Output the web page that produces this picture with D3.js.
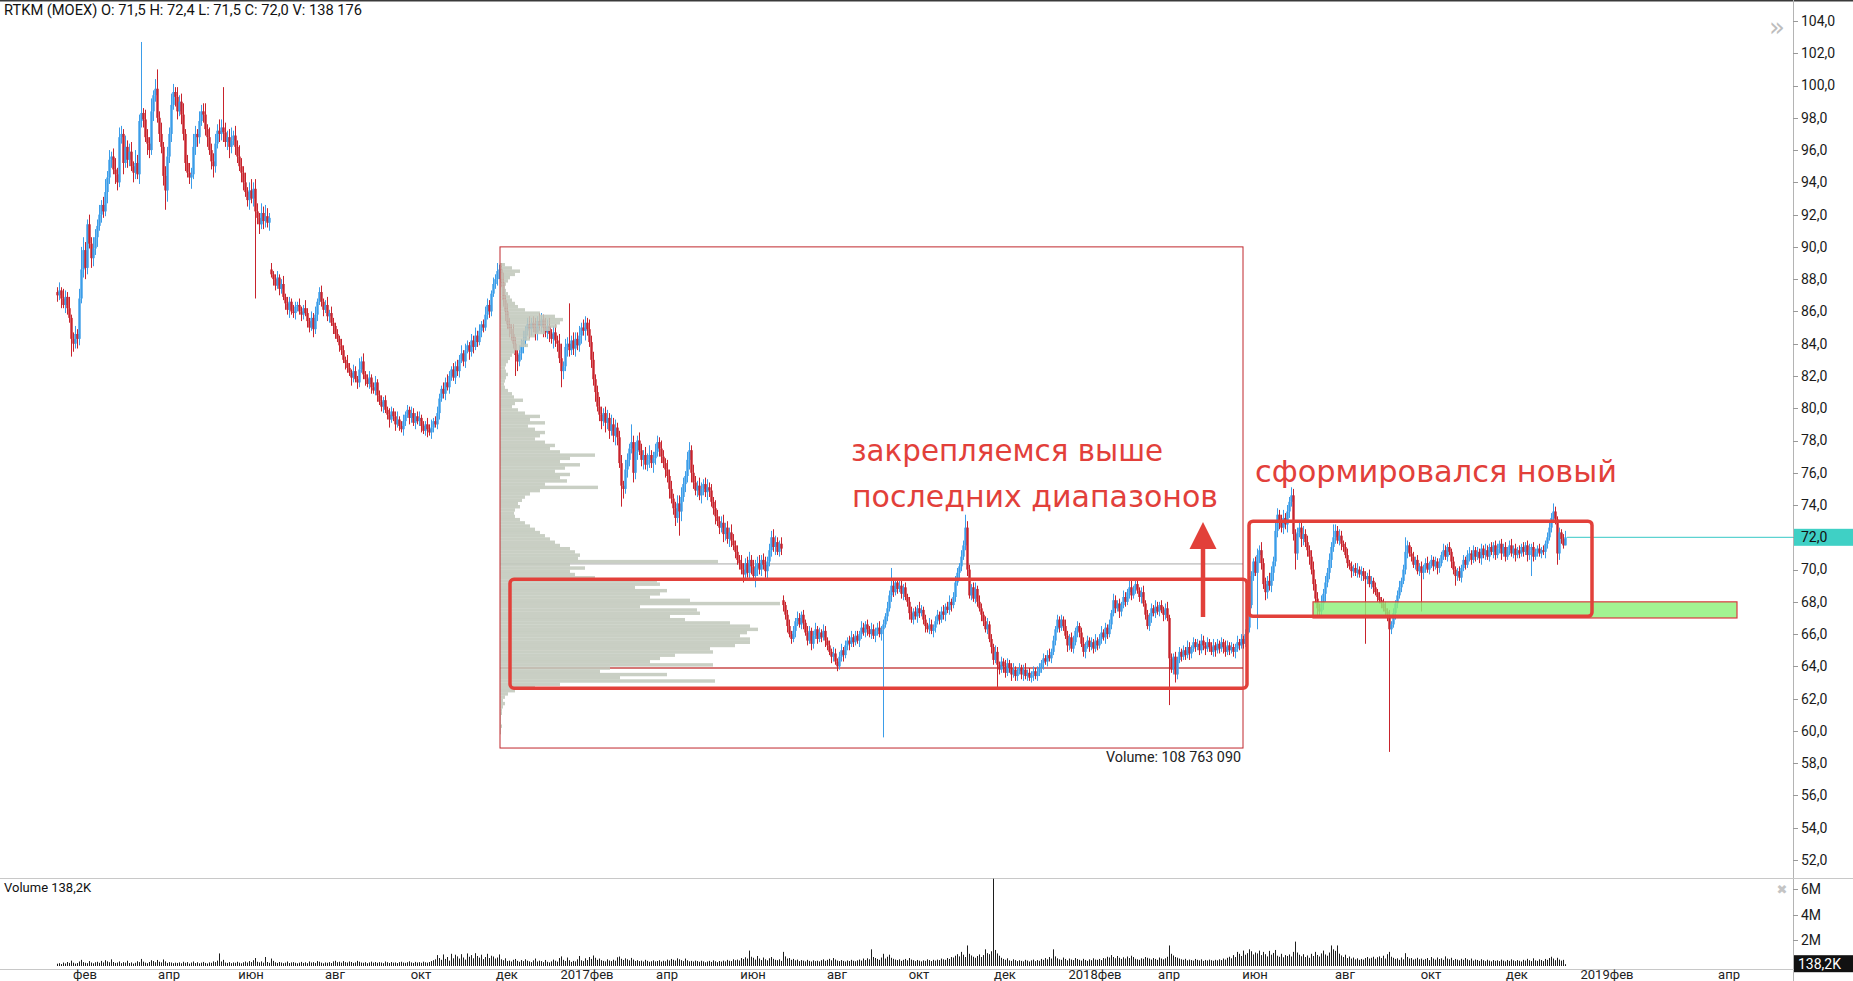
<!DOCTYPE html>
<html><head><meta charset="utf-8">
<script src="https://cdn.jsdelivr.net/npm/d3@7"></script>
<style>html,body{margin:0;padding:0;background:#fff;overflow:hidden}</style>
</head><body>
<svg id="c" width="1853" height="981"></svg>
<script>
// ---------- DATA ----------
const closes = [
87.0,87.3,86.8,86.4,86.9,86.2,85.6,84.3,84.0,84.6,84.3,
86.8,88.6,89.8,88.7,91.4,90.2,89.3,89.9,90.6,91.3,
92.0,92.6,92.2,93.4,94.3,95.4,95.6,94.8,94.5,94.0,
96.8,97.0,95.2,96.2,95.4,95.9,95.0,94.6,95.2,94.5,
97.8,98.3,97.9,96.8,96.4,96.0,98.4,99.4,99.8,98.0,
97.0,96.2,94.4,93.5,95.6,97.0,98.8,99.6,99.3,98.4,
99.0,98.2,97.0,95.2,94.6,94.3,94.5,96.2,97.0,96.8,
97.8,98.4,98.2,97.3,96.8,96.0,95.3,95.0,96.4,97.2,
97.0,97.4,97.1,96.5,96.8,96.2,96.6,96.9,96.2,95.6,
95.0,94.6,94.0,93.4,92.9,93.5,93.0,93.6,92.2,91.8,
91.4,92.1,91.6,91.9,91.5,91.8,88.3,88.0,87.6,88.1,
87.4,87.7,86.9,86.5,86.1,86.6,86.0,85.9,86.3,86.4,
86.0,85.8,86.2,85.9,85.4,85.0,85.6,84.9,85.8,86.6,
87.2,86.6,86.1,86.4,85.7,85.9,85.3,85.1,84.6,84.3,
83.9,83.6,83.0,82.8,82.5,82.2,81.9,82.3,81.8,81.6,
82.4,82.9,82.1,81.8,81.5,81.9,81.3,81.1,81.6,80.8,
80.4,80.1,80.5,79.9,79.6,79.3,79.8,79.5,79.0,79.3,
78.9,78.7,79.2,79.6,79.9,79.4,79.7,79.1,79.5,79.2,
79.4,78.9,78.6,79.0,78.7,78.5,78.8,79.2,79.0,79.7,
80.6,81.2,80.9,81.6,81.3,82.0,82.4,81.9,82.6,82.3,
83.0,83.4,82.9,83.6,83.9,83.5,84.2,83.8,84.5,84.1,
84.8,85.2,85.0,85.8,86.4,86.0,87.1,87.7,88.0,88.5,
88.6,87.8,86.7,86.0,85.2,84.9,84.6,84.0,83.3,82.9,
83.4,83.9,84.2,84.8,85.2,84.9,85.3,85.0,84.7,85.4,
85.1,85.5,85.0,84.7,85.1,84.6,84.3,84.7,84.2,84.0,
83.1,82.3,82.6,83.8,84.0,83.6,84.2,83.7,84.3,83.9,
84.5,85.0,84.8,85.3,84.9,84.1,83.0,81.8,81.0,80.1,
79.6,79.2,79.7,79.1,79.4,78.6,79.0,78.3,78.8,78.2,
76.6,75.2,75.0,76.2,76.8,77.5,77.9,76.0,77.3,78.0,
77.4,76.8,77.1,76.5,76.8,77.1,76.6,76.9,77.3,77.9,
77.5,77.0,76.6,76.2,75.8,75.0,74.4,73.8,73.2,74.1,
73.6,74.5,75.3,75.8,76.8,77.4,76.0,75.4,74.9,75.2,
74.6,75.0,75.3,74.8,75.1,74.9,74.2,73.8,73.3,73.0,
72.6,72.9,72.2,72.6,71.9,72.3,71.8,71.5,71.1,70.6,
70.4,70.0,69.7,70.4,69.8,70.6,70.2,69.6,70.1,70.4,
70.0,70.6,70.3,69.9,70.5,71.2,72.0,71.4,71.7,71.1,
71.6,71.3,67.8,67.2,66.5,66.0,65.7,66.2,66.8,67.0,
66.6,67.2,66.7,66.1,65.6,66.2,65.4,65.9,66.3,65.7,
66.1,65.8,66.2,65.6,65.3,64.9,64.6,64.8,64.3,64.0,
64.6,65.0,64.7,65.3,65.6,65.4,65.8,65.5,65.9,65.6,
66.0,66.4,66.1,66.6,66.3,66.0,66.3,65.9,66.2,66.4,
66.0,66.3,66.6,67.1,67.6,68.4,69.0,68.6,69.2,68.8,
69.0,68.5,68.9,68.3,68.0,67.3,66.9,67.4,67.1,67.6,
67.3,67.5,66.9,66.5,66.3,66.6,66.2,66.4,66.8,67.2,
66.9,67.4,67.2,67.7,67.5,68.0,67.8,68.3,69.2,69.8,
70.2,70.8,71.5,72.6,70.0,68.4,68.9,68.2,68.8,68.0,
67.6,67.2,66.8,66.3,66.6,65.7,65.2,64.4,64.9,64.1,
63.8,64.3,64.0,63.6,64.2,63.9,63.5,63.8,63.4,63.7,
63.9,63.5,63.8,63.4,63.6,63.3,63.5,63.7,63.4,63.6,
63.9,64.2,64.5,64.3,64.7,64.5,64.9,65.6,66.3,66.9,
66.4,66.9,66.5,65.9,65.3,65.8,65.1,65.5,66.2,66.5,
66.1,65.4,64.9,65.3,65.6,65.2,65.5,65.1,65.6,65.3,
65.7,66.1,65.8,66.4,66.0,66.6,67.3,68.1,67.6,67.9,
67.4,67.8,68.3,68.0,68.6,68.9,68.4,68.8,69.1,68.7,
68.3,68.6,67.9,67.2,66.5,67.1,67.6,67.3,67.7,67.4,
67.8,67.5,67.2,67.6,67.0,64.5,63.8,64.6,63.5,64.4,
64.9,64.6,65.0,64.7,65.2,64.8,65.1,65.5,65.2,65.4,
65.0,65.6,65.3,65.1,65.5,65.2,64.9,65.3,65.0,65.4,
65.1,65.5,65.2,64.9,65.3,65.0,65.2,64.9,65.1,65.5,
65.3,65.7,65.4,66.0,66.4,67.8,69.6,70.5,69.8,70.9,
71.2,70.4,69.1,68.6,69.3,69.0,69.8,70.5,72.4,73.4,
73.0,72.6,73.2,72.8,73.6,74.2,74.6,72.2,71.0,72.3,
72.6,71.9,72.2,71.7,71.2,70.8,70.0,69.1,68.2,67.6,
67.4,67.9,68.5,69.2,69.8,70.6,71.4,72.0,72.4,71.8,
72.1,71.6,71.4,70.9,70.4,70.2,69.9,70.1,69.8,70.0,
69.7,69.9,69.6,69.4,69.6,69.1,69.3,68.9,68.6,68.3,
68.1,67.9,67.6,67.4,67.2,66.3,66.6,67.3,67.9,68.4,
68.9,69.3,70.0,71.1,71.5,71.0,70.8,70.3,70.6,69.9,
70.2,69.8,70.1,70.4,70.0,70.3,70.6,70.2,70.5,70.1,
70.4,70.9,71.2,70.8,71.4,71.1,70.5,70.0,69.6,69.9,
69.5,70.1,70.6,70.3,70.9,71.0,70.6,71.2,70.8,71.1,
70.7,71.3,70.9,71.2,70.8,71.4,71.1,71.5,70.9,71.3,
71.6,71.0,71.4,70.8,71.2,71.5,71.0,71.3,70.9,71.2,
71.0,71.4,71.1,71.5,70.9,71.2,71.4,70.8,71.1,71.3,
71.0,71.2,71.1,71.6,72.0,72.6,73.2,73.6,73.1,71.0,
72.3,71.9,71.5,72.0
];
const firstOpen = 87.2;
const gapOpens = [[107, 88.6], [363, 68.1]];
// upper / lower shadows beyond the body, in tenths of a rouble
const upperWick = [
3,5,2,6,4,3,7,2,4,5,3,6,4,8,5,3,6,4,7,5, 4,6,3,5,8,4,6,3,5,7,4,6,5,3,7,4,5,6,3,8,
5,4,7,3,6,5,4,8,3,6,5,4,7,3,5,6,4,7,5,3, 6,4,5,7,3,5,6,4,8,5,3,6,4,5,7,3,6,4,5,6,
4,7,5,3,6,4,5,8,3,6,4,7,5,4,6,3,5,7,4,6, 5,3,6,4,7,5,3,4,2,3,4,2,3,5,2,4,3,2,4,3,
2,4,3,2,5,3,2,4,3,5,2,3,4,2,3,5,2,4,3,2, 3,2,4,3,2,5,3,2,4,3,2,4,3,5,2,3,4,2,3,4,
2,3,4,2,3,2,4,3,2,3,5,2,3,4,2,3,2,4,3,2, 3,4,2,3,2,4,3,5,2,3,4,3,2,4,3,5,3,2,4,3,
4,3,5,2,4,3,2,4,3,5,3,4,2,3,5,4,3,2,4,3, 5,3,4,6,3,5,4,3,6,4,3,5,4,6,3,4,5,3,4,6,
3,5,4,3,6,4,5,3,4,5,3,6,4,3,5,4,6,3,5,4, 4,6,3,5,4,3,6,4,5,3,4,6,5,3,4,5,3,6,4,5,
3,4,5,3,6,4,3,5,4,6,3,5,4,3,5,4,6,3,4,5, 4,3,5,4,3,6,4,5,3,4,5,3,6,4,3,5,4,3,5,4,
3,5,4,3,4,5,3,4,3,5,4,3,4,5,3,4,3,5,4,3, 4,3,5,4,3,4,5,3,4,3,4,5,3,4,5,3,4,3,5,4,
3,2,4,3,2,3,4,2,3,2,4,3,2,3,2,4,3,2,3,4, 2,3,2,4,3,2,3,2,4,3,2,3,4,2,3,2,3,4,2,3,
3,2,4,3,2,3,2,4,3,2,3,4,2,3,2,4,3,2,3,2, 2,3,4,2,3,2,3,4,2,3,2,4,3,2,3,2,4,3,2,3,
3,2,3,4,2,3,4,2,3,4,3,2,4,3,2,4,3,2,3,4, 2,4,3,2,3,4,2,3,2,4,3,2,3,2,4,3,2,3,4,2,
2,3,2,3,4,2,3,2,3,2,4,3,2,3,2,3,4,2,3,2, 3,2,3,2,4,3,2,3,4,2,3,2,3,4,2,3,2,3,2,4,
2,3,4,2,3,2,3,2,4,3,2,3,2,4,3,2,3,4,2,3, 3,2,3,4,2,3,2,3,2,4,3,2,3,2,3,4,2,3,2,3,
2,3,2,3,2,4,3,2,3,2,3,2,4,3,2,3,2,3,4,2, 3,2,3,2,4,3,2,3,2,3,4,2,3,2,3,2,4,3,2,3,
4,3,5,3,4,3,5,4,3,5,4,3,4,5,3,4,3,5,4,3, 3,4,3,5,3,4,3,4,5,3,4,3,5,3,4,3,4,3,5,4,
3,4,3,2,3,4,2,3,2,3,4,2,3,2,3,2,4,3,2,3, 2,3,2,3,4,2,3,2,3,2,3,4,2,3,2,3,2,4,3,2,
3,2,3,2,3,4,2,3,2,3,2,3,2,4,3,2,3,2,3,2, 2,3,2,3,2,3,4,2,3,2,3,2,3,2,4,3,2,3,2,3,
3,2,3,2,3,2,3,4,2,3,2,3,2,3,2,3,4,2,3,2, 2,3,2,3,2,3,4,3,2,3,2,3,2,3,2
];
const lowerWick = [
4,3,6,2,5,4,3,7,5,3,6,4,3,5,7,4,3,6,5,4, 6,3,5,4,3,7,4,5,3,6,5,3,4,7,3,5,4,3,6,4,
3,6,4,5,3,7,5,3,6,4,3,5,4,6,3,7,4,5,3,6, 5,3,6,4,5,3,4,7,3,5,6,4,3,5,4,6,3,5,7,4,
3,5,4,6,3,5,7,4,3,5,4,3,6,5,3,4,6,3,5,4, 4,6,3,5,4,3,5,2,4,3,2,4,3,2,4,3,5,2,3,4,
3,2,4,3,2,4,3,2,5,3,4,2,3,4,2,3,4,2,5,3, 2,4,3,2,4,3,2,5,3,2,4,3,2,3,4,2,3,4,2,3,
4,2,3,4,2,3,5,2,3,4,2,3,2,4,3,2,4,3,2,4, 2,3,4,2,3,5,2,4,3,2,3,4,2,3,4,2,4,3,2,4,
3,4,2,3,4,2,5,3,4,2,3,2,4,3,2,3,4,3,2,3, 4,5,3,4,6,3,5,4,3,5,6,3,4,5,4,3,6,4,3,5,
5,3,4,6,3,4,5,3,6,4,5,3,4,5,3,6,4,3,4,5, 3,4,5,3,6,4,3,5,4,6,3,4,5,3,6,4,5,3,4,6,
5,3,4,6,3,5,4,3,6,4,5,3,4,6,3,4,5,3,6,4, 3,5,4,3,5,4,6,3,4,5,3,4,6,3,5,4,3,6,4,3,
4,3,5,4,3,5,4,3,4,5,3,4,3,5,4,3,5,4,3,4, 3,4,3,5,4,3,4,5,3,4,5,3,4,3,4,5,3,4,3,5,
2,3,4,2,3,4,2,3,2,4,3,2,3,4,2,3,2,4,3,2, 3,2,3,2,4,3,2,4,3,2,3,2,3,4,2,3,4,2,3,2,
2,4,3,2,3,4,2,3,2,4,3,2,4,3,2,3,2,4,3,2, 3,2,3,4,2,3,4,2,3,2,4,3,2,3,4,2,3,2,4,3,
2,3,2,3,4,2,3,4,2,3,2,4,3,2,3,4,2,3,2,3, 3,2,4,3,2,3,2,4,3,2,4,3,2,4,3,2,3,4,2,3,
3,2,3,4,2,3,2,3,4,2,3,2,3,4,2,3,2,3,2,3, 2,3,2,3,2,4,3,2,3,2,4,3,2,3,4,2,3,2,3,2,
3,2,3,2,4,3,2,3,2,3,2,4,3,2,3,2,4,3,2,3, 2,3,4,2,3,2,3,4,2,3,2,3,2,4,3,2,3,2,3,2,
3,2,3,2,3,2,4,3,2,3,2,3,2,3,4,2,3,2,3,4, 2,3,2,4,3,2,3,2,3,4,2,3,2,3,2,4,3,2,3,2,
3,5,4,3,5,4,3,4,5,3,4,5,3,4,3,5,4,3,4,5, 4,3,5,4,3,4,5,3,4,3,5,4,3,4,5,3,4,5,3,4,
2,3,4,3,2,3,2,4,3,2,3,2,4,3,2,3,2,3,4,2, 3,2,3,2,3,4,2,3,2,4,3,2,3,2,3,4,2,3,2,3,
2,3,2,4,3,2,3,2,3,2,4,3,2,3,2,3,2,4,3,2, 3,2,3,2,3,2,4,3,2,3,2,3,4,2,3,2,3,2,4,3,
2,3,4,2,3,2,3,2,3,4,2,3,2,3,2,4,3,2,3,2, 3,2,3,2,4,3,2,3,2,3,2,4,3,2,0
];
// notable long shadows: [bar, high, low]
const wicks = [[7,84.6,83.2],[12,90.0,86.5],[42,102.7,97.5],[50,101.0,97.8],[54,95.0,92.3],[83,99.9,96.8],
 [99,93.6,86.8],[151,83.1,81.6],[229,84.1,82.0],[252,84.0,81.3],[256,86.5,83.4],[264,85.7,84.7],
 [282,76.5,73.9],[287,79.0,77.2],[311,74.6,72.1],[316,77.9,76.2],[349,70.6,68.9],[357,72.4,71.3],
 [363,68.1,67.4],[413,66.8,59.6],[417,70.1,68.2],[454,73.4,71.5],[470,64.9,62.7],[536,69.3,68.2],
 [556,67.2,61.6],[559,64.6,63.0],[600,71.2,66.3],[617,75.0,73.9],[619,72.4,70.0],[638,72.8,71.2],
 [654,69.7,65.4],[666,67.1,58.7],[674,72.0,70.0],[682,70.4,67.4],[699,70.2,69.0],[737,71.6,69.6],
 [748,74.1,73.0],[750,72.5,70.3],[754,72.4,71.5]];
// volume, in 10 000 shares
const volumes = [
18,22,15,27,20,31,24,42,26,19,23,35,48,30,25,22,38,27,21,29,
33,25,40,28,45,36,29,52,31,24,27,35,22,30,26,41,23,28,19,25,
37,30,55,34,26,22,31,45,38,29,47,33,28,51,36,24,30,27,22,26,
24,28,21,33,25,30,19,27,35,23,29,21,26,32,24,20,28,25,36,30,
42,98,35,48,27,24,30,22,28,25,33,26,21,29,35,27,38,30,45,62,
33,28,36,26,70,31,25,58,40,29,24,31,27,22,26,35,23,28,30,25,
21,26,32,24,29,22,35,27,30,24,38,33,26,21,28,25,30,23,36,41,
29,33,26,38,30,27,35,31,24,28,40,33,27,25,30,22,28,34,26,31,
25,30,27,22,35,29,24,31,26,28,23,30,33,27,25,29,36,28,24,32,
27,30,25,34,29,26,31,38,45,52,85,62,48,90,55,70,42,95,60,88,
75,58,92,66,50,98,72,85,60,100,78,65,88,54,70,95,62,80,74,58,
66,90,52,45,60,38,42,35,48,55,40,33,46,38,52,41,36,30,44,58,
35,42,38,30,47,33,28,36,50,41,34,62,75,48,39,66,45,32,40,36,
52,78,44,38,60,46,70,55,82,64,48,58,45,40,36,52,43,38,49,41,
68,74,56,47,60,52,44,63,50,39,45,38,42,35,48,40,33,37,44,36,
39,45,34,41,37,50,43,55,48,42,60,52,45,38,58,44,36,40,35,42,
38,33,41,36,29,35,40,32,44,37,30,39,34,42,36,48,41,38,52,45,
50,43,62,55,68,58,120,72,64,50,78,58,46,66,52,44,60,70,56,48,
45,52,40,110,75,58,62,48,55,44,50,38,46,42,36,48,40,35,44,38,
41,36,45,52,40,48,56,44,62,50,42,38,46,40,35,43,39,48,41,37,
44,50,42,58,46,60,52,130,70,62,55,48,66,95,58,72,88,64,56,50,
46,52,40,48,55,44,62,50,45,38,47,42,36,44,40,52,46,38,48,42,
50,46,58,52,48,62,55,70,66,80,92,75,110,88,70,160,95,82,72,64,
78,90,70,85,130,100,92,115,680,125,98,80,64,55,48,60,44,40,52,46,
38,45,40,36,48,42,35,44,50,38,46,41,55,48,62,52,70,58,130,75,
60,52,48,66,55,44,58,50,46,62,54,48,42,56,47,40,52,45,60,50,
48,55,46,62,58,72,66,85,70,60,78,64,55,68,58,74,62,80,70,56,
52,48,60,56,70,64,58,50,62,55,48,66,58,52,60,72,160,95,82,70,
65,58,52,48,56,44,50,46,42,55,48,44,52,40,47,43,50,45,41,48,
44,52,46,58,50,64,72,60,85,70,110,95,78,120,88,100,130,115,90,105,
98,120,85,110,92,75,118,88,102,125,80,72,95,68,85,78,90,74,110,190,
105,88,76,92,70,82,64,95,78,110,86,74,98,120,90,80,105,160,130,118,
160,96,82,70,88,62,74,58,66,52,60,48,55,50,62,70,58,64,72,56,
68,75,62,80,58,92,110,72,64,55,60,48,66,52,100,70,58,62,50,56,
64,52,58,48,55,62,46,70,58,50,66,54,60,48,75,58,52,64,46,55,
50,44,56,48,62,52,45,58,42,50,47,40,53,45,38,49,42,36,46,40,
44,38,50,42,36,47,40,52,44,38,46,41,35,48,42,56,45,38,60,44,
40,52,46,38,55,48,62,72,58,45,64,50,42,48,14
];
// fixed range volume profile (Dec 2016 - Jun 2018), rows of 0.2 from 59.8 upward, in 10 000 shares
const profileLow = 59.8, profileStep = 0.2;
const profileVol = [
1,1,2,1,1,1,2,2,3,5,
3,5,8,15,35,60,215,120,167,100,
110,213,150,160,175,213,210,235,250,250,
240,247,258,250,230,185,170,200,197,140,
280,190,150,160,167,135,160,157,95,75,
70,85,70,218,78,80,75,70,60,55,
50,45,40,35,30,25,20,15,14,15,
20,18,22,25,30,40,98,45,67,60,
70,55,65,80,60,70,95,60,50,55,
45,35,40,45,35,28,45,30,40,25,
18,12,15,23,14,12,8,5,4,5,
6,8,6,5,6,8,10,12,15,20,
28,25,30,35,45,50,57,60,63,55,
40,25,18,15,12,10,8,6,5,6,
8,10,15,20,12,5
];
const profileRange = {i0: 221.5, i1: 593, top: 90.0, bottom: 58.94};
const profileLines = [{p: 70.35, kind: "vah"}, {p: 63.9, kind: "poc"}];
const priceTicks = [52,54,56,58,60,62,64,66,68,70,72,74,76,78,80,82,84,86,88,90,92,94,96,98,100,102,104];
const volTicks = [200, 400, 600];
const volTickLabels = ["2M", "4M", "6M"];
const monthTickIdx = [14,56,97,139,182,225,265,305,348,390,431,474,519,556,599,644,687,730,775,836];
const monthLabels = ["фев","апр","июн","авг","окт","дек","2017фев","апр","июн","авг","окт","дек","2018фев","апр","июн","авг","окт","дек","2019фев","апр"];
const zones = [
  {i0: 226.5, i1: 595, top: 69.4, bottom: 62.65, kind: "range"},
  {i0: 596, i1: 767.5, top: 73.0, bottom: 67.1, kind: "range"}
];
const support = {i0: 628, i1: 840, top: 68.0, bottom: 67.0};
const arrow = {i: 573, from: 67.06, to: 72.95};
const notes = [
  {text: "закрепляемся выше", i: 397, p: 76.7, len: 312},
  {text: "последних диапазонов", i: 397.5, p: 73.85, len: 366},
  {text: "сформировался новый", i: 599, p: 75.4, len: 362}
];
const lastPrice = 72.0, lastVolLabel = "138,2K";
const header = "RTKM (MOEX) O: 71,5  H: 72,4  L: 71,5  C: 72,0  V: 138 176";
const profileTotal = "Volume: 108 763 090";

// ---------- CHART ----------
const W = 1853, H = 981, axisX = 1793;
const svg = d3.select("#c");
const x = d3.scaleLinear().domain([0, 754]).range([57, 1565]);
const y = d3.scaleLinear().domain([52, 104]).range([860, 21]);
const yv = d3.scaleLinear().domain([0, 600]).range([966, 889]);
const pw = d3.scaleLinear().domain([0, 280]).range([0, 280]);
const UP = "#3b9de9", DOWN = "#c8232c", RED = "#e2403a";
const uiFont = "Roboto, 'Open Sans', sans-serif";

svg.append("rect").attr("width", W).attr("height", H).attr("fill", "#fff");

const candles = closes.map((c, i) => {
  let o = i === 0 ? firstOpen : closes[i - 1];
  const g = gapOpens.find(d => d[0] === i); if (g) o = g[1];
  let h = Math.max(o, c) + (upperWick[i] || 0) / 10, l = Math.min(o, c) - (lowerWick[i] || 0) / 10;
  const w = wicks.find(d => d[0] === i);
  if (w) { h = Math.max(h, w[1]); l = Math.min(l, w[2]); }
  return {i, o, h, l, c, v: volumes[i]};
});

// profile box lines
const pb = profileRange;
svg.append("g").selectAll("line").data(profileLines).join("line")
  .attr("x1", x(pb.i0)).attr("x2", x(pb.i1))
  .attr("y1", d => y(d.p)).attr("y2", d => y(d.p))
  .attr("stroke", d => d.kind === "poc" ? "#c94a4a" : "#a8a8a8").attr("stroke-width", d => d.kind === "poc" ? 1.5 : 1);

// candles
const cg = svg.append("g");
cg.selectAll("line").data(candles).join("line")
  .attr("x1", d => x(d.i) + 0.5).attr("x2", d => x(d.i) + 0.5)
  .attr("y1", d => y(d.h)).attr("y2", d => y(d.l))
  .attr("stroke", d => d.c >= d.o ? UP : DOWN).attr("stroke-width", 1);
cg.selectAll("rect").data(candles).join("rect")
  .attr("x", d => x(d.i) - 0.7).attr("width", 2.4)
  .attr("y", d => y(Math.max(d.o, d.c)))
  .attr("height", d => Math.max(1.2, Math.abs(y(d.o) - y(d.c))))
  .attr("fill", d => d.c >= d.o ? UP : DOWN);

// profile histogram
const rows = profileVol.map((v, k) => ({p0: profileLow + k * profileStep, v}));
svg.append("g").selectAll("rect").data(rows).join("rect")
  .attr("x", x(pb.i0)).attr("width", d => pw(d.v))
  .attr("y", d => y(d.p0 + profileStep)).attr("height", d => y(d.p0) - y(d.p0 + profileStep) + 0.2)
  .attr("fill", "#c2c8bc").attr("fill-opacity", 0.88);
svg.append("rect").attr("x", x(pb.i0)).attr("y", y(pb.top))
  .attr("width", x(pb.i1) - x(pb.i0)).attr("height", y(pb.bottom) - y(pb.top))
  .attr("fill", "none").attr("stroke", "#c0272d").attr("stroke-width", 1);
svg.append("text").attr("x", x(pb.i1) - 2).attr("y", y(pb.bottom) + 14)
  .attr("text-anchor", "end").attr("font-family", uiFont).attr("font-size", 14).attr("fill", "#222")
  .attr("textLength", 135).attr("lengthAdjust", "spacingAndGlyphs")
  .text(profileTotal);

// last price line
svg.append("line").attr("x1", x(754) + 2).attr("x2", axisX)
  .attr("y1", y(lastPrice)).attr("y2", y(lastPrice)).attr("stroke", "#36c9c6").attr("stroke-width", 1);

// support zone
svg.append("rect").attr("x", x(support.i0)).attr("y", y(support.top))
  .attr("width", x(support.i1) - x(support.i0)).attr("height", y(support.bottom) - y(support.top))
  .attr("fill", "#8ff07a").attr("fill-opacity", 0.82).attr("stroke", "#d9393f").attr("stroke-width", 1.2);

// range boxes
svg.append("g").selectAll("rect").data(zones).join("rect")
  .attr("x", d => x(d.i0)).attr("y", d => y(d.top))
  .attr("width", d => x(d.i1) - x(d.i0)).attr("height", d => y(d.bottom) - y(d.top))
  .attr("rx", 4).attr("fill", "none").attr("stroke", RED).attr("stroke-width", 3.5);

// arrow
const ax = x(arrow.i);
svg.append("line").attr("x1", ax).attr("x2", ax).attr("y1", y(arrow.from)).attr("y2", y(arrow.to) + 20)
  .attr("stroke", RED).attr("stroke-width", 4.5);
svg.append("path").attr("d", `M${ax},${y(arrow.to)} L${ax - 13.5},${y(arrow.to) + 27} L${ax + 13.5},${y(arrow.to) + 27} Z`)
  .attr("fill", RED);

// notes
svg.append("g").selectAll("text").data(notes).join("text")
  .attr("x", d => x(d.i)).attr("y", d => y(d.p))
  .attr("font-family", "'Comic Sans MS', 'DejaVu Sans', sans-serif").attr("font-size", 30)
  .attr("textLength", d => d.len).attr("lengthAdjust", "spacingAndGlyphs")
  .attr("fill", RED).text(d => d.text);

// header
svg.append("line").attr("x1", 0).attr("x2", W).attr("y1", 0.5).attr("y2", 0.5).attr("stroke", "#3a3a3a").attr("stroke-width", 2);
svg.append("text").attr("x", 4).attr("y", 15).attr("font-family", uiFont).attr("font-size", 14)
  .attr("textLength", 358).attr("lengthAdjust", "spacingAndGlyphs").attr("fill", "#111").text(header);
svg.append("text").attr("x", 1777).attr("y", 36).attr("text-anchor", "middle").attr("font-family", "DejaVu Sans")
  .attr("font-size", 26).attr("fill", "#bdbdbd").text("»");

// price axis
svg.append("line").attr("x1", axisX + 0.5).attr("x2", axisX + 0.5).attr("y1", 0).attr("y2", H).attr("stroke", "#b4b4b4");
const pa = svg.append("g");
pa.selectAll("line").data(priceTicks).join("line")
  .attr("x1", axisX).attr("x2", axisX + 5).attr("y1", d => Math.round(y(d)) + 0.5).attr("y2", d => Math.round(y(d)) + 0.5)
  .attr("stroke", "#999");
pa.selectAll("text").data(priceTicks).join("text")
  .attr("x", axisX + 8).attr("y", d => y(d)).attr("dy", "0.35em")
  .attr("font-family", uiFont).attr("font-size", 14).attr("fill", "#1a1a1a")
  .text(d => d3.format(".1f")(d).replace(".", ","));
svg.append("rect").attr("x", axisX + 1).attr("y", y(lastPrice) - 8.5).attr("width", W - axisX).attr("height", 17).attr("fill", "#3fd0c5");
svg.append("text").attr("x", axisX + 8).attr("y", y(lastPrice)).attr("dy", "0.35em")
  .attr("font-family", uiFont).attr("font-size", 14).attr("fill", "#111").text(d3.format(".1f")(lastPrice).replace(".", ","));

// volume pane
svg.append("line").attr("x1", 0).attr("x2", W).attr("y1", 878.5).attr("y2", 878.5).attr("stroke", "#c8c8c8");
svg.append("line").attr("x1", 0).attr("x2", W).attr("y1", 969.5).attr("y2", 969.5).attr("stroke", "#c8c8c8");
svg.append("g").selectAll("line").data(candles).join("line")
  .attr("x1", d => x(d.i) + 0.5).attr("x2", d => x(d.i) + 0.5)
  .attr("y1", yv(0)).attr("y2", d => yv(d.v)).attr("stroke", "#1e1e1e").attr("stroke-width", 1);
svg.append("text").attr("x", 4).attr("y", 892).attr("font-family", uiFont).attr("font-size", 13)
  .attr("fill", "#111").text("Volume " + lastVolLabel);
svg.append("text").attr("x", 1782).attr("y", 894).attr("text-anchor", "middle").attr("font-family", "DejaVu Sans")
  .attr("font-size", 13).attr("fill", "#c4c4c4").text("✖");
const va = svg.append("g");
va.selectAll("line").data(volTicks).join("line")
  .attr("x1", axisX).attr("x2", axisX + 5).attr("y1", d => Math.round(yv(d)) + 0.5).attr("y2", d => Math.round(yv(d)) + 0.5).attr("stroke", "#999");
va.selectAll("text").data(volTickLabels).join("text")
  .attr("x", axisX + 8).attr("y", (d, k) => yv(volTicks[k])).attr("dy", "0.35em")
  .attr("font-family", uiFont).attr("font-size", 14).attr("fill", "#1a1a1a").text(d => d);
svg.append("rect").attr("x", axisX + 1).attr("y", yv(volumes[volumes.length - 1]) - 9).attr("width", W - axisX).attr("height", 17).attr("fill", "#111");
svg.append("text").attr("x", axisX + 5).attr("y", yv(volumes[volumes.length - 1])).attr("dy", "0.35em")
  .attr("font-family", uiFont).attr("font-size", 14).attr("fill", "#fff").text(lastVolLabel);

// time axis
svg.append("g").selectAll("text").data(monthLabels).join("text")
  .attr("x", (d, k) => x(monthTickIdx[k])).attr("y", 979).attr("text-anchor", "middle")
  .attr("font-family", uiFont).attr("font-size", 13).attr("fill", "#222").text(d => d);
</script>
</body></html>
